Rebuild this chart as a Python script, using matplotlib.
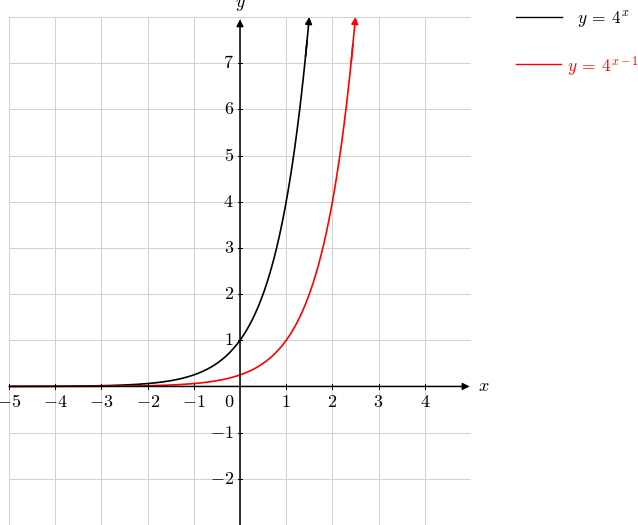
import matplotlib.pyplot as plt
from matplotlib.lines import Line2D
import numpy as np

plt.rcParams['mathtext.fontset'] = 'cm'
plt.rcParams['font.family'] = 'serif'
plt.rcParams['font.serif'] = ['DejaVu Serif']

# data
x_lim = (-5, 5)
y_lim = (-3, 8)
x_ticks = [-5, -4, -3, -2, -1, 1, 2, 3, 4]
y_ticks = [-2, -1, 1, 2, 3, 4, 5, 6, 7]
x_end_black = 1.5   # 4**1.5 = 8
x_end_red = 2.5     # 4**(2.5-1) = 8
labels = [r'$y\:=\:4^{x}$', r'$y\:=\:4^{x-1}$']
colors = ['black', 'red']

fig = plt.figure(figsize=(6.38, 5.25), dpi=100)
ax = fig.add_axes([9/638, 0, 462/638, 508/525])

xs1 = np.linspace(x_lim[0], x_end_black, 400)
xs2 = np.linspace(x_lim[0], x_end_red, 400)
l1, = ax.plot(xs1[:-3], 4**xs1[:-3], color=colors[0], lw=1.2)
l2, = ax.plot(xs2[:-3], 4**(xs2[:-3]-1), color=colors[1], lw=1.2)
# arrow tips on the curves
ax.annotate('', xy=(xs1[-1], 4**xs1[-1]), xytext=(xs1[-6], 4**xs1[-6]),
            arrowprops=dict(arrowstyle='-|>', color=colors[0], lw=1.2, mutation_scale=10, shrinkA=0, shrinkB=0))
ax.annotate('', xy=(xs2[-1], 4**(xs2[-1]-1)), xytext=(xs2[-6], 4**(xs2[-6]-1)),
            arrowprops=dict(arrowstyle='-|>', color=colors[1], lw=1.2, mutation_scale=10, shrinkA=0, shrinkB=0))

ax.set_xlim(*x_lim)
ax.set_ylim(*y_lim)
ax.set_xticks(range(-5, 6))
ax.set_yticks(range(-3, 9))
ax.grid(True, color='#d0d0d0', lw=0.7)
ax.tick_params(length=0, labelbottom=False, labelleft=False)
for s in ax.spines.values():
    s.set_visible(False)

# axis lines with arrows
ax.annotate('', xy=(4.97, 0), xytext=(x_lim[0], 0),
            arrowprops=dict(arrowstyle='-|>', color='black', lw=1.1, mutation_scale=10, shrinkA=0, shrinkB=0))
ax.annotate('', xy=(0, 7.95), xytext=(0, y_lim[0]),
            arrowprops=dict(arrowstyle='-|>', color='black', lw=1.1, mutation_scale=10, shrinkA=0, shrinkB=0))

fs = 13
for t in x_ticks:
    ax.plot([t, t], [-0.05, 0.05], color='black', lw=0.7)
    ax.text(t, -0.15, '$%d$' % t if t > 0 else '$-%d$' % -t, ha='center', va='top', fontsize=fs)
for t in y_ticks:
    ax.plot([-0.05, 0.05], [t, t], color='black', lw=0.7)
    ax.text(-0.13, t, '$%d$' % t if t > 0 else '$-%d$' % -t, ha='right', va='center', fontsize=fs)
ax.text(-0.13, -0.15, '$0$', ha='right', va='top', fontsize=fs)
ax.text(5.15, 0, '$x$', ha='left', va='center', fontsize=fs, clip_on=False)
ax.text(0, 8.08, '$y$', ha='center', va='bottom', fontsize=fs, clip_on=False)

# legend, drawn by hand outside the axes
W, H = 638, 525
for (x0, x1, yl, xt, ha), lab, c in zip([(516, 562, 17, 603, 'center'), (516, 561, 64, 567, 'left')], labels, colors):
    fig.add_artist(Line2D([x0/W, x1/W], [1 - yl/H, 1 - yl/H], color=c, lw=1.0, transform=fig.transFigure))
    fig.text(xt/W, 1 - yl/H, lab, color=c, ha=ha, va='center_baseline', fontsize=12.5)

fig.savefig('out.png', dpi=100)
